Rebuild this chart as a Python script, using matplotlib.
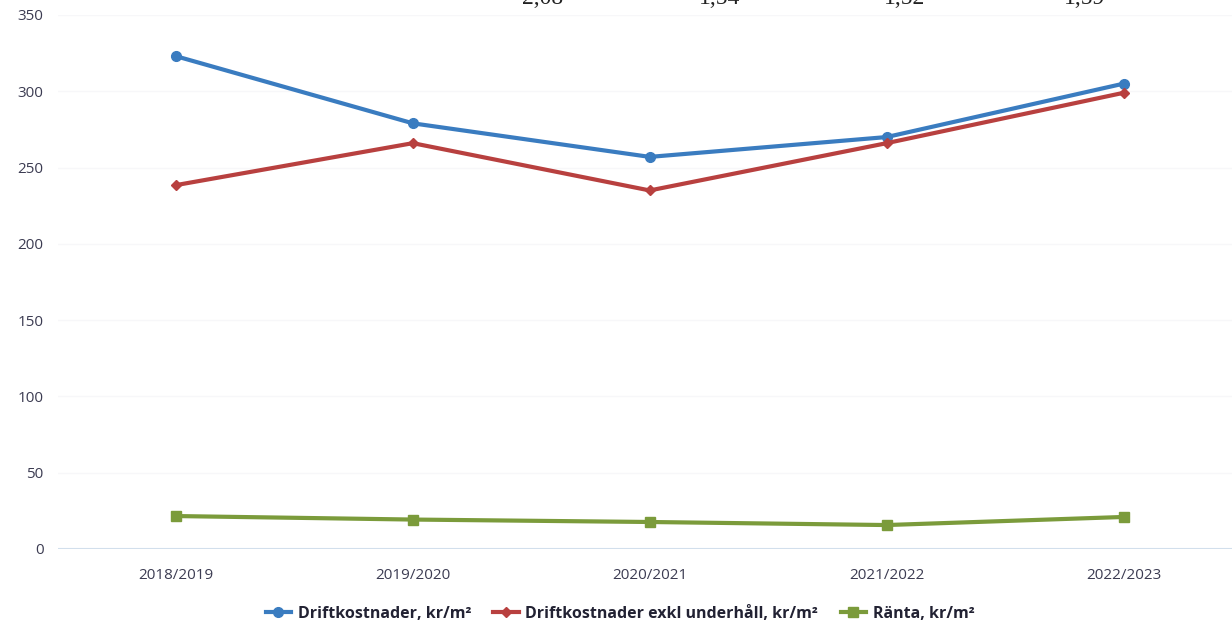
import matplotlib
matplotlib.use("Agg")
import matplotlib.pyplot as plt

categories = ["2018/2019", "2019/2020", "2020/2021", "2021/2022", "2022/2023"]
drift = [323, 279, 257, 270, 305]
drift_exkl = [238.5, 266, 235, 266, 299]
ranta = [21.6, 19.3, 17.7, 15.7, 21]
series_labels = ["Driftkostnader, kr/m²", "Driftkostnader exkl underhåll, kr/m²", "Ränta, kr/m²"]
top_row = ["2,08", "1,54", "1,52", "1,59"]
yticks = [0, 50, 100, 150, 200, 250, 300, 350]

plt.rcParams['font.family'] = ['Open Sans', 'DejaVu Sans']

fig = plt.figure(figsize=(12.32, 6.24), dpi=100)
ax = fig.add_axes([57.5 / 1232, 75 / 624, (1242 - 57.5) / 1232, (549 - 15) / 624])

x = list(range(len(categories)))
ax.plot(x, drift, color="#3a7cc0", lw=3, marker="o", ms=7, label=series_labels[0], zorder=3)
ax.plot(x, drift_exkl, color="#b8403f", lw=3, marker="D", ms=5, label=series_labels[1], zorder=3)
ax.plot(x, ranta, color="#7b9b3b", lw=3, marker="s", ms=7, label=series_labels[2], zorder=3)

ax.set_xlim(-0.5, len(categories) - 0.5)
ax.set_ylim(0, 350)
ax.set_yticks(yticks)
ax.set_xticks(x)
ax.set_xticklabels(categories)
for s in ax.spines.values():
    s.set_visible(False)
ax.axhline(0, color="#c9daea", lw=1.5, zorder=1)
ax.grid(axis="y", color="#f7f7f9", lw=1)
ax.tick_params(axis="both", length=0, colors="#3c3c52", labelsize=11)
ax.tick_params(axis="x", pad=14)
ax.tick_params(axis="y", pad=10)

leg = fig.legend(loc="center", bbox_to_anchor=(620 / 1232, 1 - 614 / 624), ncol=3, frameon=False,
                 fontsize=11.5, handlelength=1.6, columnspacing=1.4, handletextpad=0.4)
for t in leg.get_texts():
    t.set_color("#222233")
    t.set_fontweight("bold")

xs = [543, 720, 905, 1085]
for xp, t in zip(xs, top_row):
    fig.text(xp / 1232, 1 - 4 / 624, t, ha="center", va="baseline", fontsize=17,
             family=["Liberation Serif"], color="#222222")

fig.savefig("out.png", dpi=100)
